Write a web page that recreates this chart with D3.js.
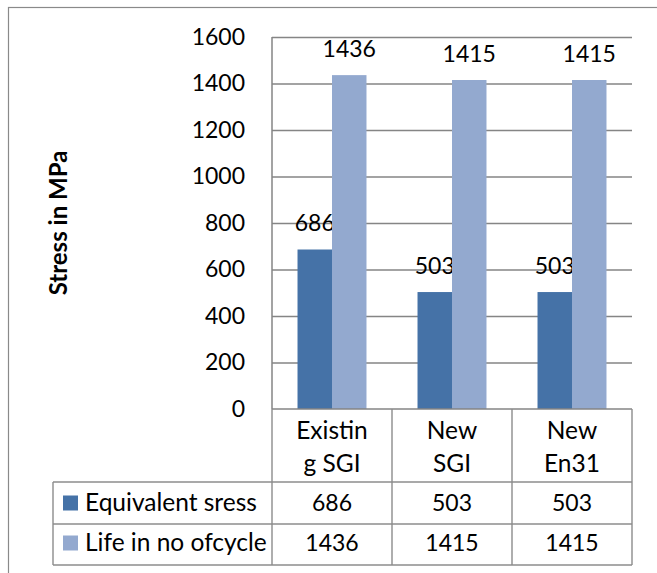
<!DOCTYPE html>
<html>
<head>
<meta charset="utf-8">
<script src="https://cdn.jsdelivr.net/npm/d3@7"></script>
<style>
  html, body { margin: 0; padding: 0; background: #fff; }
  svg { display: block; }
  text { font-family: Lato, "Open Sans", sans-serif; fill: #000; }
</style>
</head>
<body>
<svg id="chart" width="657" height="573"></svg>
<script>
// Chart data
const categories = ["Existing SGI", "New SGI", "New En31"];
const categoryLines = [["Existin", "g SGI"], ["New", "SGI"], ["New", "En31"]];
const seriesNames = ["Equivalent sress", "Life in no ofcycle"];
const equivalentStress = [686, 503, 503];
const lifeInCycles = [1436, 1415, 1415];
const yTicks = [0, 200, 400, 600, 800, 1000, 1200, 1400, 1600];
const seriesColors = ["#4572a7", "#93a9cf"];

const series = [equivalentStress, lifeInCycles];

const svg = d3.select("#chart");
const W = 657, H = 573;
const numSize = 23, wordSize = 24.5;

// Plot geometry
const plot = { left: 272, right: 632, top: 37, bottom: 409 };
const tableRows = [409, 482, 524, 565];
const legendLeft = 53;
const gridColor = "#858585";
const tableColor = "#8c8c8c";

// Outer chart frame (extends past the right and bottom edges)
svg.append("rect")
  .attr("x", 8.5).attr("y", 7.5)
  .attr("width", W + 20).attr("height", H + 20)
  .attr("fill", "#fff").attr("stroke", "#8a8a8a").attr("stroke-width", 1.2);

const y = d3.scaleLinear().domain([0, 1600]).range([plot.bottom, plot.top]);
const x = d3.scaleBand().domain(categories).range([plot.left, plot.right]).padding(0);
const xs = d3.scaleBand().domain(seriesNames).range([0, x.bandwidth()])
  .paddingInner(0).paddingOuter(0.74);

// Horizontal gridlines
svg.append("g")
  .attr("transform", `translate(${plot.left},0)`)
  .call(d3.axisLeft(y).tickValues(yTicks.filter(v => v > 0))
    .tickSize(-(plot.right - plot.left)).tickFormat(""))
  .call(g => g.select(".domain").remove())
  .call(g => g.selectAll("line").attr("stroke", gridColor).attr("stroke-width", 1.5));

// Y axis labels
const yAxis = svg.append("g")
  .attr("transform", `translate(${plot.left},0)`)
  .call(d3.axisLeft(y).tickValues(yTicks).tickSize(0).tickPadding(27).tickFormat(d3.format("d")));
yAxis.select(".domain").remove();
yAxis.selectAll("text")
  .attr("font-family", "Lato, sans-serif").attr("font-size", numSize).attr("fill", "#000");

// Vertical axis line
svg.append("line")
  .attr("x1", plot.left).attr("x2", plot.left)
  .attr("y1", plot.top).attr("y2", plot.bottom)
  .attr("stroke", gridColor).attr("stroke-width", 1.5);

// Bars
const groups = svg.append("g").selectAll("g")
  .data(categories).join("g")
  .attr("transform", d => `translate(${x(d)},0)`);

seriesNames.forEach((name, si) => {
  groups.append("rect")
    .attr("x", xs(name))
    .attr("width", xs.bandwidth())
    .attr("y", (d, i) => y(series[si][i]))
    .attr("height", (d, i) => y(0) - y(series[si][i]))
    .attr("fill", seriesColors[si]);

  groups.append("text")
    .attr("x", xs(name) + xs.bandwidth() / 2)
    .attr("y", (d, i) => y(series[si][i]) - 18.5)
    .attr("text-anchor", "middle")
    .attr("font-size", numSize)
    .text((d, i) => series[si][i]);
});

// Data table grid
const tbl = svg.append("g").attr("stroke", tableColor).attr("stroke-width", 1.4);
// category row top (category axis line)
tbl.append("line").attr("x1", plot.left).attr("x2", plot.right)
  .attr("y1", tableRows[0]).attr("y2", tableRows[0]).attr("stroke", gridColor);
tableRows.slice(1).forEach(r => {
  tbl.append("line").attr("x1", legendLeft).attr("x2", plot.right)
    .attr("y1", r).attr("y2", r);
});
// column separators
const colEdges = categories.map(c => x(c)).concat([plot.right]);
colEdges.forEach(cx => {
  tbl.append("line").attr("x1", cx).attr("x2", cx)
    .attr("y1", tableRows[0]).attr("y2", tableRows[3]);
});
tbl.append("line").attr("x1", legendLeft).attr("x2", legendLeft)
  .attr("y1", tableRows[1]).attr("y2", tableRows[3]);

// Category labels
categories.forEach((c, i) => {
  const t = svg.append("text")
    .attr("x", x(c) + x.bandwidth() / 2)
    .attr("text-anchor", "middle")
    .attr("font-size", wordSize);
  categoryLines[i].forEach((line, li) => {
    t.append("tspan").attr("x", x(c) + x.bandwidth() / 2)
      .attr("y", 438.5 + li * 33).text(line);
  });
});

// Legend rows with values
const rowBaselines = [511, 551];
seriesNames.forEach((name, si) => {
  svg.append("rect")
    .attr("x", 63).attr("y", rowBaselines[si] - 15.5)
    .attr("width", 15).attr("height", 15)
    .attr("fill", seriesColors[si]);
  svg.append("text")
    .attr("x", 85).attr("y", rowBaselines[si])
    .attr("font-size", wordSize)
    .text(name);
  categories.forEach((c, i) => {
    svg.append("text")
      .attr("x", x(c) + x.bandwidth() / 2)
      .attr("y", rowBaselines[si])
      .attr("text-anchor", "middle")
      .attr("font-size", numSize)
      .text(series[si][i]);
  });
});

// Y axis title
svg.append("text")
  .attr("transform", `translate(67,223) rotate(-90)`)
  .attr("text-anchor", "middle")
  .attr("font-size", 24)
  .attr("font-weight", "bold")
  .text("Stress in MPa");
</script>
</body>
</html>
